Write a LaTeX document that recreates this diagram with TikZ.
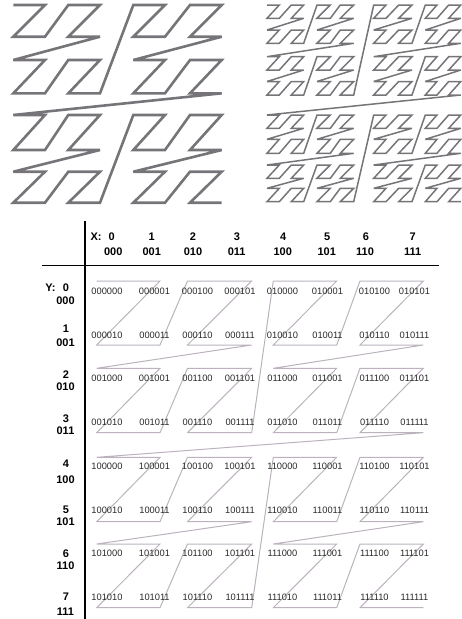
\documentclass[tikz,border=0pt]{standalone}
\usepackage{fontspec}
\setmainfont{Liberation Sans}
\definecolor{topgray}{RGB}{118,116,120}
\definecolor{tabline}{RGB}{188,178,190}
\definecolor{celltext}{RGB}{40,40,40}
\begin{document}
\begin{tikzpicture}[x=1pt,y=-1pt,
  curveL/.style={draw=topgray,line width=2.6pt,line join=miter,miter limit=4},
  curveR/.style={draw=topgray,line width=1.5pt,line join=miter,miter limit=4},
  curveT/.style={draw=tabline,line width=1pt,line join=miter,miter limit=4},
  cell/.style={inner sep=0pt,font={\fontsize{9.3}{11}\selectfont},text=celltext},
  lab/.style={inner sep=0pt,font={\fontsize{11}{13}\selectfont\bfseries}},
  rule/.style={draw=black,line width=1.8pt}]
\useasboundingbox (0,0) rectangle (462,619);

% ---------- coordinate lists ----------
\def\LX{{13.3,45,68.3,100,133.3,165,190,221.7}}
\def\LY{{5,36.7,60,93.3,115,150,171.7,202.7}}
\def\RX{{267,279.3,291.3,303.7,317,330.3,340.3,353.7,373.7,386,398.7,412,425.3,437,448.7,460.8}}
\def\RY{{5,18.3,30,43.3,56.7,70,81.5,95,115,128.3,139.3,153.3,165,178.3,188.3,201.7}}
\def\TX{{96.7,160,187.5,251.7,273.3,336.7,360,423.3}}
\def\TY{{281,345,368.3,432.7,457.3,521.7,544,607.7}}
\def\CX{{107,154.5,197.5,240,282.5,327.5,374.5,414.5}}
\def\CY{{291,335,378.3,422.3,466.7,510,553.3,597.7}}

% ---------- Z-order points, 8x8 ----------
\foreach \n in {0,...,63}{
  \pgfmathtruncatemacro\xi{mod(\n,2)+2*mod(int(\n/4),2)+4*mod(int(\n/16),2)}
  \pgfmathtruncatemacro\yi{mod(int(\n/2),2)+2*mod(int(\n/8),2)+4*mod(int(\n/32),2)}
  \pgfmathsetmacro\px{\LX[\xi]}\pgfmathsetmacro\py{\LY[\yi]}
  \coordinate (a\n) at (\px,\py);
  \pgfmathsetmacro\qx{\TX[\xi]}\pgfmathsetmacro\qy{\TY[\yi]}
  \coordinate (t\n) at (\qx,\qy);
}
% ---------- Z-order points, 16x16 ----------
\foreach \n in {0,...,255}{
  \pgfmathtruncatemacro\xi{mod(\n,2)+2*mod(int(\n/4),2)+4*mod(int(\n/16),2)+8*mod(int(\n/64),2)}
  \pgfmathtruncatemacro\yi{mod(int(\n/2),2)+2*mod(int(\n/8),2)+4*mod(int(\n/32),2)+8*mod(int(\n/128),2)}
  \pgfmathsetmacro\px{\RX[\xi]}\pgfmathsetmacro\py{\RY[\yi]}
  \coordinate (b\n) at (\px,\py);
}

\draw[curveL] (a0) \foreach \n in {1,...,63}{ -- (a\n) };
\draw[curveR] (b0) \foreach \n in {1,...,255}{ -- (b\n) };
\draw[curveT] (t0) \foreach \n in {1,...,63}{ -- (t\n) };

% ---------- table rules ----------
\coordinate (vtop) at (85.3,221);
\coordinate (vbot) at (85.3,619);
\coordinate (hl) at (41.7,265.5);
\coordinate (hr) at (439.3,265.5);
\draw[rule] (vtop) -- (vbot);
\draw[rule] (hl) -- (hr);

% ---------- cells ----------
\foreach \r in {0,...,7}{
  \foreach \c in {0,...,7}{
    \pgfmathtruncatemacro\ya{int(\r/4)}
    \pgfmathtruncatemacro\yb{mod(int(\r/2),2)}
    \pgfmathtruncatemacro\yc{mod(\r,2)}
    \pgfmathtruncatemacro\xa{int(\c/4)}
    \pgfmathtruncatemacro\xb{mod(int(\c/2),2)}
    \pgfmathtruncatemacro\xc{mod(\c,2)}
    \pgfmathsetmacro\cx{\CX[\c]}\pgfmathsetmacro\cy{\CY[\r]}
    \node[cell] (d\r\c) at (\cx,\cy) {\ya\xa\yb\xb\yc\xc};
  }
}

% ---------- column headers ----------
\node[lab] (xl) at (96,236.5) {X:};
\def\HX{{111.7,151.7,193,237,283.3,327.3,366,412.7}}
\def\HB{{113.3,151.7,193,236.7,282.7,326.7,365,412.7}}
\foreach \c in {0,...,7}{
  \pgfmathtruncatemacro\xa{int(\c/4)}
  \pgfmathtruncatemacro\xb{mod(int(\c/2),2)}
  \pgfmathtruncatemacro\xc{mod(\c,2)}
  \pgfmathsetmacro\hx{\HX[\c]}\pgfmathsetmacro\hb{\HB[\c]}
  \node[lab] (hn\c) at (\hx,236.5) {\c};
  \node[lab] (hb\c) at (\hb,251.8) {\xa\xb\xc};
}

% ---------- row headers ----------
\node[lab] (yl) at (50.5,287.7) {Y:};
\def\RN{{287.7,328.3,375,419,463.3,509.3,553.3,596.7}}
\def\RB{{301,342.7,386.7,430.7,479.3,521.7,566,611.7}}
\foreach \r in {0,...,7}{
  \pgfmathtruncatemacro\ya{int(\r/4)}
  \pgfmathtruncatemacro\yb{mod(int(\r/2),2)}
  \pgfmathtruncatemacro\yc{mod(\r,2)}
  \pgfmathsetmacro\rn{\RN[\r]}\pgfmathsetmacro\rb{\RB[\r]}
  \node[lab] (rn\r) at (66,\rn) {\r};
  \node[lab] (rb\r) at (65.5,\rb) {\ya\yb\yc};
}
\end{tikzpicture}
\end{document}
